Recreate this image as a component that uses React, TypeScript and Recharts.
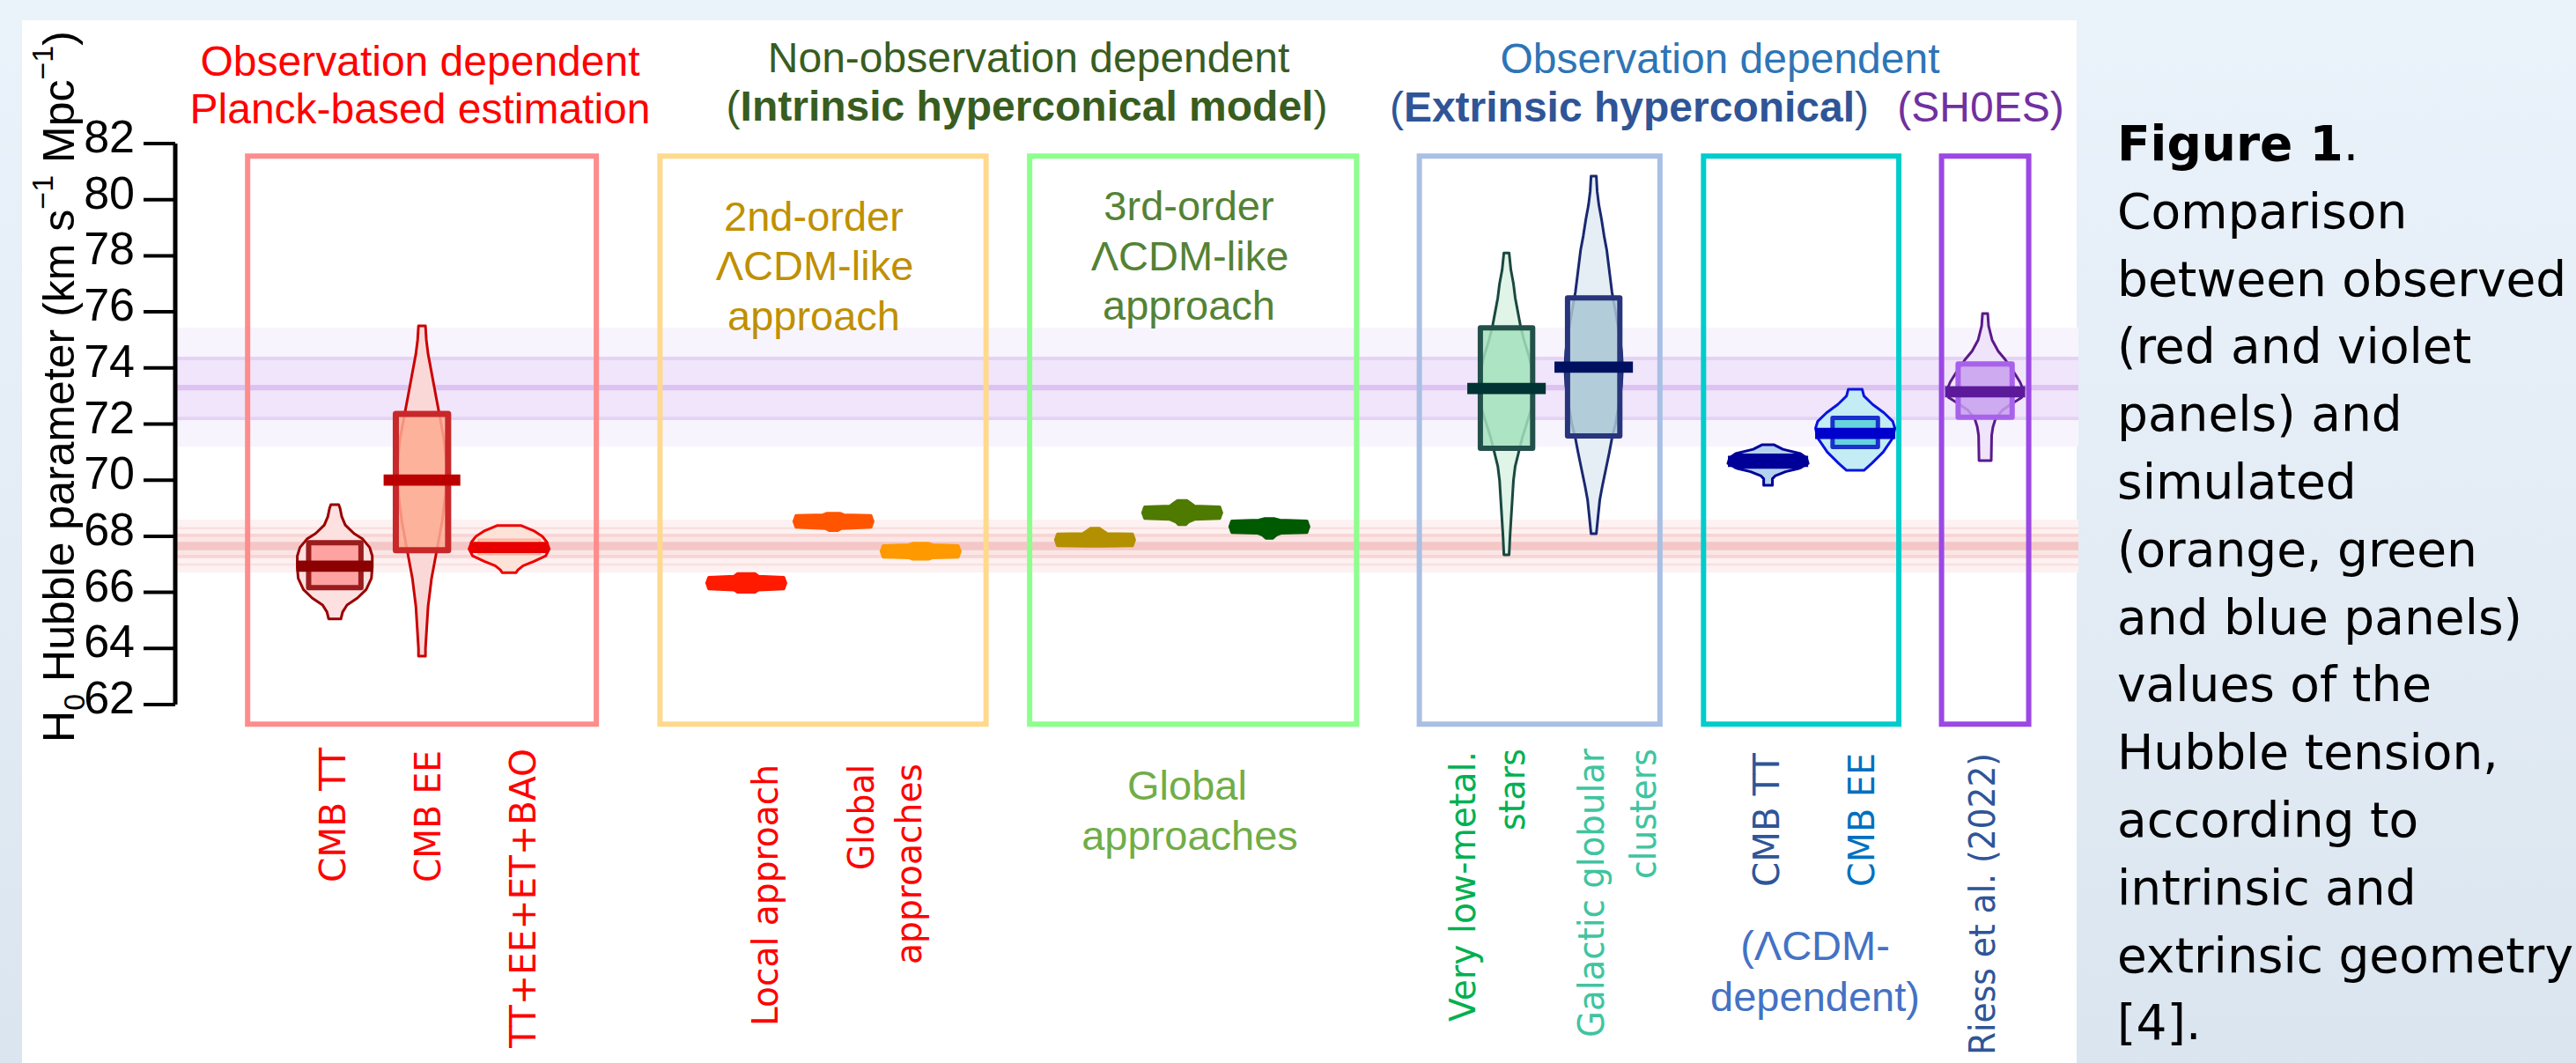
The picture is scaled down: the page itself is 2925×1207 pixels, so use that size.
import React from 'react';
import { ComposedChart, XAxis, YAxis, Scatter, ReferenceArea } from 'recharts';

const W = 2925;
const H = 1207;
const ARIAL = "'Liberation Sans', Arial, Helvetica, sans-serif";
const VERD = "'DejaVu Sans', Verdana, sans-serif";

// ---------- axis ----------
const yTicks = [62, 64, 66, 68, 70, 72, 74, 76, 78, 80, 82];
const yDomain: [number, number] = [62, 82];
const xDomain: [number, number] = [-0.83, 21];

// ---------- reference bands (H0 values) ----------
const bandLow = [71.2, 72.2, 74.28, 72.14, 73.2, 66.71, 67.28, 67.97, 67.22, 68.25, 66.95, 67.5];
const bandHigh = [75.44, 74.34, 74.4, 72.26, 73.4, 68.59, 68.03, 68.09, 67.34, 68.33, 67.03, 67.8];
const bandColor = ['#f8f4fd', '#f0e5fa', '#e4d3f6', '#e4d3f6', '#dcc3f2', '#fdf1f1', '#fbe6e6', '#f9d4d4', '#f9d4d4', '#fae0e0', '#fae0e0', '#f5c6c6'];

// ---------- panels ----------
const panelX1 = [0, 4.73, 8.97, 13.44, 16.7, 19.43];
const panelX2 = [4.0, 8.47, 12.72, 16.2, 18.94, 20.43];
const panelColor = ['#ff8c8c', '#ffd98c', '#8cff8c', '#a9bfe4', '#00cccc', '#9b48e4'];
const panelTop = 81.55;
const panelBottom = 61.3;

// ---------- violins ----------
const violinName = [
  'CMB TT', 'CMB EE', 'TT+EE+ET+BAO',
  'Local approach', 'Global approaches A', 'Global approaches B',
  '3rd-order A', '3rd-order B', '3rd-order C',
  'Very low-metal. stars', 'Galactic globular clusters',
  'CMB TT (LCDM)', 'CMB EE (LCDM)', 'Riess et al. (2022)',
];
const violinX = [1, 2, 3, 5.72, 6.72, 7.72, 9.72, 10.72, 11.72, 14.44, 15.44, 17.44, 18.44, 19.93];

// [value, half width]
const violinProfile: number[][][] = [
  [[65.05, .07], [65.3, .09], [65.55, .14], [65.8, .26], [66.1, .36], [66.5, .42], [66.9, .43], [67.3, .43], [67.6, .40], [67.9, .32], [68.1, .22], [68.4, .12], [68.7, .08], [69.0, .06], [69.13, .045]],
  [[63.73, .04], [64.0, .04], [64.5, .05], [65.0, .06], [65.5, .07], [66.0, .09], [66.5, .11], [67.0, .14], [67.5, .17], [68.0, .2], [68.5, .23], [69.0, .25], [69.5, .27], [70.0, .28], [70.5, .28], [71.0, .27], [71.5, .25], [72.0, .22], [72.5, .19], [73.0, .16], [73.5, .13], [74.0, .10], [74.5, .07], [75.0, .05], [75.5, .04]],
  [[66.7, .08], [66.8, .10], [66.95, .16], [67.1, .28], [67.3, .42], [67.55, .46], [67.8, .43], [68.0, .38], [68.2, .28], [68.38, .14]],
  [[66.0, .10], [66.08, .14], [66.12, .43], [66.33, .455], [66.54, .43], [66.58, .14], [66.67, .10]],
  [[68.2, .05], [68.27, .09], [68.32, .43], [68.53, .455], [68.74, .43], [68.77, .12], [68.82, .08]],
  [[67.18, .09], [67.23, .14], [67.25, .43], [67.46, .455], [67.67, .43], [67.7, .14], [67.75, .09]],
  [[67.64, .10], [67.66, .43], [67.87, .455], [68.08, .43], [68.1, .14], [68.2, .09], [68.29, .05]],
  [[68.41, .04], [68.5, .07], [68.6, .14], [68.63, .43], [68.84, .455], [69.05, .43], [69.08, .14], [69.2, .09], [69.28, .05]],
  [[67.93, .04], [68.04, .08], [68.11, .14], [68.13, .43], [68.34, .455], [68.55, .43], [68.58, .12], [68.63, .06]],
  [[67.34, .03], [68.0, .04], [68.5, .05], [69.0, .06], [69.5, .07], [70.0, .08], [70.5, .10], [71.0, .14], [71.5, .18], [72.0, .23], [72.5, .28], [73.0, .31], [73.5, .31], [74.0, .29], [74.5, .25], [75.0, .20], [75.5, .16], [76.0, .13], [76.5, .10], [77.0, .08], [77.5, .05], [78.1, .03]],
  [[68.09, .03], [68.7, .05], [69.3, .07], [69.8, .10], [70.4, .14], [71.0, .18], [71.5, .21], [72.0, .25], [72.7, .29], [73.4, .32], [74.0, .33], [74.6, .32], [75.3, .29], [76.0, .25], [76.7, .21], [77.2, .19], [77.7, .17], [78.2, .15], [78.7, .12], [79.3, .09], [79.8, .06], [80.3, .04], [80.84, .03]],
  [[69.82, .05], [70.05, .05], [70.15, .08], [70.3, .20], [70.42, .36], [70.6, .46], [70.8, .44], [70.95, .37], [71.1, .17], [71.26, .07]],
  [[70.35, .10], [70.6, .19], [71.0, .32], [71.5, .43], [71.85, .455], [72.1, .43], [72.4, .33], [72.7, .20], [73.0, .10], [73.24, .08]],
  [[70.7, .07], [71.6, .075], [71.9, .09], [72.2, .12], [72.5, .20], [72.75, .32], [72.95, .42], [73.2, .44], [73.5, .40], [73.9, .32], [74.3, .23], [74.6, .15], [75.0, .08], [75.5, .04], [75.94, .03]],
];
const violinFill = ['#fde0e0', '#fbd8d8', '#fde2d8', '#ff1a00', '#ff5500', '#ff9900', '#b39000', '#4f7a00', '#005a00', '#e0f4e8', '#e4eef4', '#b4d2f0', '#c4ecf4', '#efe4f9'];
const violinStroke = ['#990000', '#cc0000', '#ee0000', '#ff1a00', '#ff5500', '#ff9900', '#b39000', '#4f7a00', '#005a00', '#1a4840', '#1a2870', '#000099', '#0a14e0', '#5a1a8a'];

// boxes: index of violin, q1, q3, half width
const boxOf = [0, 1, 2, 9, 10, 11, 12, 13];
const boxQ1 = [66.17, 67.5, 67.37, 71.14, 71.58, 70.45, 71.18, 72.24];
const boxQ3 = [67.77, 72.36, 67.87, 75.43, 76.5, 70.9, 72.22, 74.14];
const boxHalf = [.30, .30, .35, .30, .30, .38, .26, .31];
const boxFill = ['#ff8e8e', '#fdab92', 'none', '#a3e2bd', '#aac5d5', '#1a1aa8', '#5ccfdc', '#c8a0ee'];
const boxFillOpacity = [0.75, 0.85, 0, 0.85, 0.85, 1, 0.9, 0.85];
const boxStroke = ['#9b1c1c', '#c8282a', '#ffb4a0', '#23504a', '#28357d', '#000099', '#1a30cc', '#a862ea'];
const boxStrokeWidth = [6, 7, 3, 6, 6, 3, 5, 6];

// medians
const medianValue = [66.93, 70.0, 67.6, 66.33, 68.53, 67.46, 67.87, 68.84, 68.34, 73.27, 74.03, 70.67, 71.67, 73.15];
const medianHalf = [.44, .44, .45, .45, .45, .45, .45, .45, .45, .45, .45, .46, .46, .46];
const medianColor = ['#8b0000', '#bb0000', '#e80000', '#ff1a00', '#ff5500', '#ff9900', '#b39000', '#4f7a00', '#005a00', '#003333', '#001060', '#000099', '#0000cc', '#5c1a9a'];
const medianHalfThick = 0.2;

// ---------- helpers ----------
type P = { x: number; y: number };
const outline = (cx: number, prof: number[][]): P[] => {
  const right = prof.map(([v, w]) => ({ x: cx + w, y: v }));
  const left = prof.slice().reverse().map(([v, w]) => ({ x: cx - w, y: v }));
  return [...right, ...left];
};
const rect = (x1: number, x2: number, y1: number, y2: number): P[] => [
  { x: x1, y: y1 }, { x: x2, y: y1 }, { x: x2, y: y2 }, { x: x1, y: y2 },
];
const polyLine = (fill: string, stroke: string, sw: number, fo = 1) => (p: any) => {
  const pts: { x: number; y: number }[] = (p && p.points) || [];
  if (!pts.length) return <g />;
  const d = pts.map((q, i) => `${i ? 'L' : 'M'}${q.x},${q.y}`).join('') + 'Z';
  return (
    <path d={d} fill={fill} fillOpacity={fo} stroke={stroke} strokeWidth={sw} strokeLinejoin="round" />
  );
};
const NoDot = () => <g />;

const YTick = (props: any) => {
  const { x, y, payload } = props;
  return (
    <text x={x} y={y + 10} textAnchor="end" fontFamily={ARIAL} fontSize={52} fill="#000">
      {payload.value}
    </text>
  );
};

const VLabel = ({ x, y, text, color, len }: { x: number; y: number; text: string; color: string; len?: number }) => (
  <text
    transform={`translate(${x},${y}) rotate(-90)`}
    textAnchor="end"
    fontFamily={VERD}
    fontSize={41}
    fill={color}
    {...(len ? { textLength: len, lengthAdjust: 'spacingAndGlyphs' } : {})}
  >
    {text}
  </text>
);

const captionLines = [
  'Comparison', 'between observed', '(red and violet', 'panels) and', 'simulated',
  '(orange, green', 'and blue panels)', 'values of the', 'Hubble tension,', 'according to',
  'intrinsic and', 'extrinsic geometry', '[4].',
];

export default function App() {
  const series: React.ReactNode[] = [];
  violinX.forEach((cx, i) => {
    series.push(
      <Scatter
        key={`v${i}`}
        name={violinName[i]}
        data={outline(cx, violinProfile[i])}
        line={polyLine(violinFill[i], violinStroke[i], 3)}
        lineType="joint"
        shape={NoDot}
        isAnimationActive={false}
        legendType="none"
      />
    );
    const b = boxOf.indexOf(i);
    if (b >= 0) {
      series.push(
        <Scatter
          key={`b${i}`}
          data={rect(cx - boxHalf[b], cx + boxHalf[b], boxQ1[b], boxQ3[b])}
          line={polyLine(boxFill[b], boxStroke[b], boxStrokeWidth[b], boxFillOpacity[b])}
          lineType="joint"
          shape={NoDot}
          isAnimationActive={false}
          legendType="none"
        />
      );
    }
    series.push(
      <Scatter
        key={`m${i}`}
        data={rect(cx - medianHalf[i], cx + medianHalf[i], medianValue[i] - medianHalfThick, medianValue[i] + medianHalfThick)}
        line={polyLine(medianColor[i], 'none', 0)}
        lineType="joint"
        shape={NoDot}
        isAnimationActive={false}
        legendType="none"
      />
    );
  });

  return (
    <div
      style={{
        position: 'absolute', left: 0, top: 0, width: W, height: H, overflow: 'hidden',
        background: 'linear-gradient(180deg, #eaf2fa 0%, #e3ecf5 55%, #dbe5ef 100%)',
      }}
    >
      <div style={{ position: 'absolute', left: 25, top: 23, width: 2333, height: 1184, background: '#ffffff' }} />
      <div style={{ position: 'absolute', left: 0, top: 0 }}>
        <ComposedChart width={W} height={H} margin={{ top: 163, right: 565, bottom: 407, left: 79 }}>
          <XAxis type="number" dataKey="x" domain={xDomain} hide allowDataOverflow />
          <YAxis
            type="number"
            dataKey="y"
            domain={yDomain}
            ticks={yTicks}
            interval={0}
            width={120}
            tickSize={36}
            tickMargin={10}
            tick={<YTick />}
            axisLine={{ stroke: '#000', strokeWidth: 5 }}
            tickLine={{ stroke: '#000', strokeWidth: 4 }}
            allowDataOverflow
          />
          {bandLow.map((lo, i) => (
            <ReferenceArea key={`band${i}`} y1={lo} y2={bandHigh[i]} fill={bandColor[i]} fillOpacity={1} stroke="none" />
          ))}
          {panelX1.map((x1, i) => (
            <ReferenceArea
              key={`panel${i}`}
              x1={x1}
              x2={panelX2[i]}
              y1={panelBottom}
              y2={panelTop}
              fill="none"
              fillOpacity={0}
              stroke={panelColor[i]}
              strokeWidth={6}
              ifOverflow="visible"
            />
          ))}
          {series}
        </ComposedChart>
      </div>
      <svg style={{ position: 'absolute', left: 0, top: 0 }} width={W} height={H}>
        {/* y-axis title */}
        <text transform="translate(84,439) rotate(-90)" textAnchor="middle" fontFamily={ARIAL} fontSize={50} fill="#000">
          <tspan>H</tspan>
          <tspan fontSize={34} dy={12}>0</tspan>
          <tspan dy={-12}> Hubble parameter (km s</tspan>
          <tspan fontSize={34} dy={-24}>−1</tspan>
          <tspan dy={24}> Mpc</tspan>
          <tspan fontSize={34} dy={-24}>−1</tspan>
          <tspan dy={24}>)</tspan>
        </text>

        {/* top titles */}
        <g fontFamily={ARIAL} fontSize={48} textAnchor="middle">
          <text x={477} y={86} fill="#ff0000">Observation dependent</text>
          <text x={477} y={140} fill="#ff0000">Planck-based estimation</text>
          <text x={1168} y={82} fill="#385d1f">Non-observation dependent</text>
          <text x={1166} y={137} fill="#385d1f">
            <tspan>(</tspan><tspan fontWeight="bold">Intrinsic hyperconical model</tspan><tspan>)</tspan>
          </text>
          <text x={1953} y={83} fill="#2e75b6">Observation dependent</text>
          <text x={1850} y={138} fill="#2f5597">
            <tspan>(</tspan><tspan fontWeight="bold">Extrinsic hyperconical</tspan><tspan>)</tspan>
          </text>
          <text x={2249} y={138} fill="#7030a0">(SH0ES)</text>
        </g>

        {/* in-panel texts */}
        <g fontFamily={ARIAL} fontSize={47} textAnchor="middle">
          <text x={924} y={262} fill="#bf9000">2nd-order</text>
          <text x={925} y={318} fill="#bf9000">ΛCDM-like</text>
          <text x={924} y={375} fill="#bf9000">approach</text>
          <text x={1350} y={250} fill="#548235">3rd-order</text>
          <text x={1351} y={307} fill="#548235">ΛCDM-like</text>
          <text x={1350} y={363} fill="#548235">approach</text>
          <text x={1348} y={908} fill="#70ad47">Global</text>
          <text x={1351} y={965} fill="#70ad47">approaches</text>
          <text x={2061} y={1090} fill="#4472c4">(ΛCDM-</text>
          <text x={2061} y={1148} fill="#4472c4">dependent)</text>
        </g>

        {/* rotated category labels */}
        <VLabel x={392} y={849} text="CMB TT" color="#ff0000" len={153} />
        <VLabel x={500} y={852} text="CMB EE" color="#ff0000" len={150} />
        <VLabel x={608} y={850} text="TT+EE+ET+BAO" color="#ff0000" len={340} />
        <VLabel x={883} y={868} text="Local approach" color="#ff0000" len={297} />
        <VLabel x={992} y={868} text="Global" color="#ff0000" len={120} />
        <VLabel x={1046} y={867} text="approaches" color="#ff0000" len={228} />
        <VLabel x={1675} y={853} text="Very low-metal." color="#00b050" len={307} />
        <VLabel x={1731} y={850} text="stars" color="#00b050" len={93} />
        <VLabel x={1821} y={850} text="Galactic globular" color="#3fc4a0" len={328} />
        <VLabel x={1880} y={850} text="clusters" color="#3fc4a0" len={148} />
        <VLabel x={2020} y={855} text="CMB TT" color="#2f5597" len={152} />
        <VLabel x={2128} y={855} text="CMB EE" color="#0070c0" len={152} />
        <VLabel x={2265} y={855} text="Riess et al. (2022)" color="#2f5597" len={343} />

        {/* caption */}
        <g fontFamily={VERD} fontSize={55} fill="#000">
          <text x={2404} y={182}>
            <tspan fontWeight="bold">Figure 1</tspan><tspan>.</tspan>
          </text>
          {captionLines.map((t, i) => (
            <text key={i} x={2404} y={182 + (i + 1) * 76.8}>{t}</text>
          ))}
        </g>
      </svg>
    </div>
  );
}
